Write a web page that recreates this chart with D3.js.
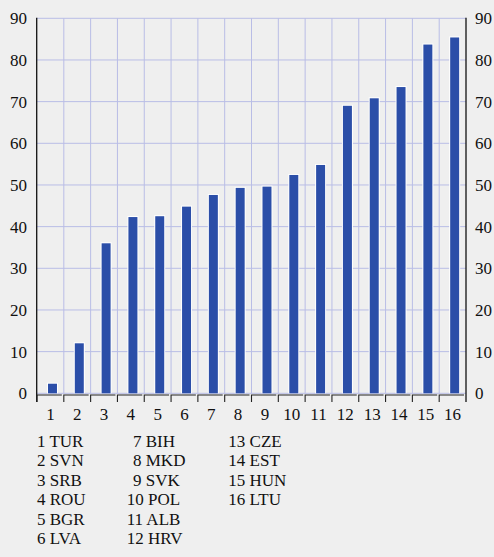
<!DOCTYPE html>
<html>
<head>
<meta charset="utf-8">
<script src="https://cdn.jsdelivr.net/npm/d3@7/dist/d3.min.js"></script>
<style>
  html, body { margin: 0; padding: 0; background: #efefef; }
  svg { display: block; }
</style>
</head>
<body>
<svg id="chart" width="494" height="557"></svg>
<script>
// Country codes in ranked order and their values
const codes = ["TUR", "SVN", "SRB", "ROU", "BGR", "LVA", "BIH", "MKD",
               "SVK", "POL", "ALB", "HRV", "CZE", "EST", "HUN", "LTU"];
const values = [2.3, 12.0, 36.0, 42.3, 42.5, 44.8, 47.6, 49.3,
                49.6, 52.4, 54.8, 69.0, 70.8, 73.5, 83.7, 85.4];
const yTicks = [0, 10, 20, 30, 40, 50, 60, 70, 80, 90];

const FONT = '"Liberation Serif"';
const svg = d3.select("#chart");
const plotLeft = 37, plotRight = 466, plotTop = 18.3, plotBottom = 393.3;

const ranks = codes.map((c, i) => i + 1);

const x = d3.scaleBand().domain(ranks).range([plotLeft, plotRight]).padding(0);
const y = d3.scaleLinear().domain([0, 90]).range([plotBottom, plotTop]);
const bw = x.bandwidth();

const gridColor = "#b9bde6";
const barColor = "#2b4ea8";

// Horizontal gridlines
svg.append("g").selectAll("line").data(yTicks).join("line")
  .attr("x1", plotLeft).attr("x2", plotRight)
  .attr("y1", d => y(d)).attr("y2", d => y(d))
  .attr("stroke", gridColor).attr("stroke-width", 1);

// Vertical gridlines at category boundaries
svg.append("g").selectAll("line").data(ranks.slice(1)).join("line")
  .attr("x1", d => x(d)).attr("x2", d => x(d))
  .attr("y1", plotTop).attr("y2", plotBottom)
  .attr("stroke", gridColor).attr("stroke-width", 1);

// Bars with a thin white edge
const bars = svg.append("g");
bars.selectAll("rect.edge").data(values).join("rect")
  .attr("class", "edge")
  .attr("x", (d, i) => x(ranks[i]) + bw * 0.41 - 1)
  .attr("width", bw * 0.335 + 2)
  .attr("y", d => y(d) - 1)
  .attr("height", d => plotBottom - y(d) + 1)
  .attr("fill", "#ffffff");
bars.selectAll("rect.bar").data(values).join("rect")
  .attr("class", "bar")
  .attr("x", (d, i) => x(ranks[i]) + bw * 0.41)
  .attr("width", bw * 0.335)
  .attr("y", d => y(d))
  .attr("height", d => plotBottom - y(d))
  .attr("fill", barColor);

// Vertical axis lines on both sides
const axisY = plotBottom + 1.7;
svg.append("line").attr("x1", plotLeft - 0.3).attr("x2", plotLeft - 0.3)
  .attr("y1", plotTop - 0.5).attr("y2", axisY + 7)
  .attr("stroke", "#111").attr("stroke-width", 1.3);
svg.append("line").attr("x1", plotRight).attr("x2", plotRight)
  .attr("y1", plotTop - 0.5).attr("y2", axisY + 7)
  .attr("stroke", "#111").attr("stroke-width", 1.3);

// Category axis: one bracket segment per category
svg.append("g").selectAll("path").data(ranks).join("path")
  .attr("d", d => {
    const x0 = x(d);
    return `M${x0},${axisY + 7}V${axisY}H${x0 + bw - 2}`;
  })
  .attr("fill", "none").attr("stroke", "#222").attr("stroke-width", 1.1);

function styleText(sel) {
  return sel.style("font-family", FONT).style("font-size", "17px").attr("fill", "#111");
}

// Value labels, left and right
styleText(svg.append("g").selectAll("text").data(yTicks).join("text")
  .attr("x", 27).attr("y", d => y(d)).attr("dy", "0.36em")
  .attr("text-anchor", "end")
  .text(d => d));
styleText(svg.append("g").selectAll("text").data(yTicks).join("text")
  .attr("x", 475).attr("y", d => y(d)).attr("dy", "0.36em")
  .attr("text-anchor", "start")
  .text(d => d));

// Category numbers
styleText(svg.append("g").selectAll("text").data(ranks).join("text")
  .attr("x", d => x(d) + bw / 2).attr("y", 420)
  .attr("text-anchor", "middle")
  .text(d => d));

// Key: rank number and country code, in three columns
const colX = [37, 126.7, 228.3];
styleText(svg.append("g").selectAll("text").data(codes).join("text")
  .attr("x", (c, i) => {
    const col = Math.floor(i / 6);
    const offset = (col > 0 && i + 1 < 10) ? 6.3 : 0;
    return colX[col] + offset;
  })
  .attr("y", (c, i) => 447 + (i % 6) * 19.4)
  .text((c, i) => `${i + 1} ${c}`));
</script>
</body>
</html>
